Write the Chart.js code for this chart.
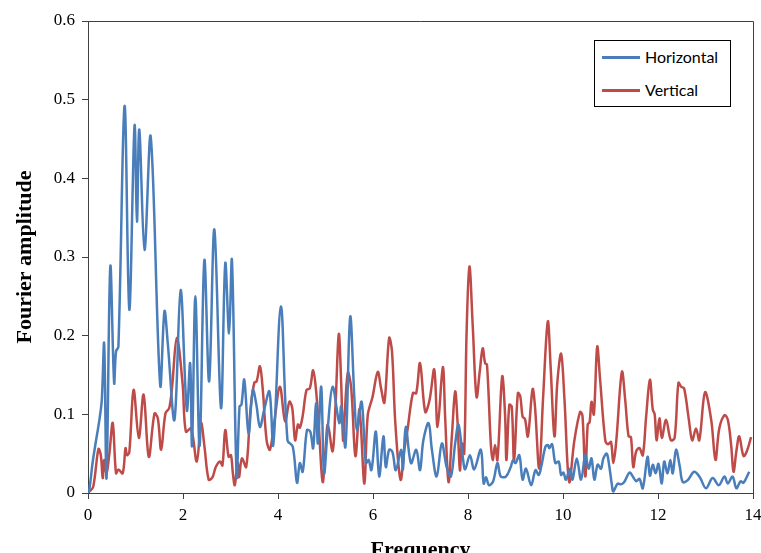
<!DOCTYPE html>
<html>
<head>
<meta charset="utf-8">
<script src="https://cdn.jsdelivr.net/npm/chart.js@4"></script>
<style>
  body { margin: 0; overflow: hidden; background: #fff; }
  #wrap { position: relative; width: 772px; height: 564px; }
  #legend { position: absolute; left: 594px; top: 40px; width: 135px; height: 65px;
            border: 1px solid #000; background: #fff; font: 16px Lato, sans-serif; color: #000; }
  #legend .ln { position: absolute; left: 7px; width: 38px; height: 2.5px; }
  #legend .tx { position: absolute; left: 50px; line-height: 20px; }
</style>
</head>
<body>
<div id="wrap">
  <canvas id="chart"></canvas>
  <div id="legend">
    <div class="ln" style="top:15px;background:#4a7ebb"></div>
    <div class="tx" style="top:6px">Horizontal</div>
    <div class="ln" style="top:48px;background:#be4b48"></div>
    <div class="tx" style="top:39px">Vertical</div>
  </div>
</div>
<script>
const freqH = [0, 0.03, 0.10, 0.17, 0.24, 0.29, 0.34, 0.39, 0.47, 0.55, 0.59, 0.64, 0.77, 0.87, 0.98, 1.03, 1.08, 1.19, 1.32,
  1.52, 1.61, 1.68, 1.82, 1.95, 2.08, 2.15, 2.19, 2.26, 2.35, 2.45, 2.55, 2.66, 2.80, 2.89, 2.97, 3.03, 3.13, 3.19, 3.23,
  3.29, 3.38, 3.47, 3.54, 3.62, 3.71, 3.82, 3.90, 4.06, 4.20, 4.31, 4.40, 4.46, 4.52, 4.61, 4.68, 4.74, 4.80, 4.84, 4.91,
  4.97, 5.05, 5.15, 5.29, 5.33, 5.42, 5.52, 5.61, 5.66, 5.76, 5.85, 5.91, 5.96, 5.99, 6.06, 6.13, 6.22, 6.27, 6.34, 6.41,
  6.48, 6.59, 6.63, 6.69, 6.80, 6.91, 6.99, 7.06, 7.17, 7.24, 7.34, 7.45, 7.55, 7.64, 7.73, 7.80, 7.89, 7.94, 8.04, 8.13,
  8.27, 8.33, 8.38, 8.44, 8.53, 8.62, 8.69, 8.80, 8.90, 8.95, 9.00, 9.08, 9.15, 9.22, 9.33, 9.42, 9.49, 9.54, 9.63, 9.68,
  9.71, 9.77, 9.84, 9.91, 9.96, 10.01, 10.06, 10.15, 10.20, 10.29, 10.38, 10.47, 10.54, 10.60, 10.66, 10.73, 10.80, 10.85,
  10.92, 10.97, 11.03, 11.06, 11.15, 11.22, 11.29, 11.40, 11.47, 11.54, 11.61, 11.68, 11.78, 11.83, 11.89, 11.95, 12.01,
  12.08, 12.13, 12.20, 12.26, 12.31, 12.38, 12.46, 12.52, 12.62, 12.76, 12.88, 13.01, 13.15, 13.28, 13.40, 13.47, 13.57,
  13.65, 13.74, 13.80, 13.92];
const ampH = [0, 0.005, 0.04, 0.067, 0.093, 0.118, 0.19, 0.019, 0.288, 0.14, 0.18, 0.186, 0.492, 0.233, 0.467, 0.345, 0.462, 0.309, 0.453,
  0.137, 0.231, 0.19, 0.093, 0.258, 0.105, 0.165, 0.06, 0.25, 0.06, 0.296, 0.142, 0.335, 0.108, 0.292, 0.203, 0.296, 0.021, 0.11, 0.112,
  0.144, 0.076, 0.131, 0.114, 0.084, 0.106, 0.129, 0.061, 0.237, 0.067, 0.059, 0.013, 0.038, 0.027, 0.08, 0.078, 0.057, 0.114, 0.063, 0.135,
  0.025, 0.084, 0.135, 0.089, 0.11, 0.059, 0.224, 0.118, 0.08, 0.116, 0.038, 0.042, 0.029, 0.038, 0.078, 0.021, 0.072, 0.033, 0.055, 0.052,
  0.029, 0.055, 0.03, 0.084, 0.038, 0.055, 0.029, 0.067, 0.089, 0.055, 0.021, 0.063, 0.033, 0.021, 0.063, 0.087, 0.046, 0.03, 0.048, 0.03,
  0.055, 0.012, 0.02, 0.01, 0.015, 0.038, 0.021, 0.021, 0.033, 0.042, 0.038, 0.048, 0.017, 0.031, 0.01, 0.029, 0.023, 0.033, 0.059, 0.061,
  0.057, 0.062, 0.038, 0.04, 0.023, 0.026, 0.017, 0.031, 0.017, 0.044, 0.017, 0.048, 0.031, 0.044, 0.017, 0.036, 0.031, 0.044,
  0.05, 0.036, 0.01, 0.002, 0.012, 0.011, 0.014, 0.026, 0.021, 0.015, 0.018, 0.006, 0.046, 0.022, 0.036, 0.025, 0.037,
  0.012, 0.04, 0.025, 0.042, 0.025, 0.055, 0.033, 0.014, 0.016, 0.027, 0.02, 0.006, 0.019, 0.01, 0.021, 0.012, 0.021,
  0.006, 0.015, 0.013, 0.027];

const freqV = [0, 0.03, 0.11, 0.22, 0.27, 0.31, 0.34, 0.39, 0.45, 0.52, 0.59, 0.64, 0.73, 0.79, 0.82, 0.87, 0.96, 1.07, 1.17, 1.28,
  1.40, 1.47, 1.54, 1.63, 1.71, 1.77, 1.87, 1.99, 2.06, 2.17, 2.29, 2.38, 2.45, 2.54, 2.62, 2.69, 2.78, 2.83, 2.89, 2.96,
  3.01, 3.05, 3.09, 3.15, 3.18, 3.24, 3.33, 3.42, 3.50, 3.55, 3.62, 3.68, 3.76, 3.83, 3.92, 4.04, 4.15, 4.24, 4.30, 4.36,
  4.42, 4.46, 4.52, 4.60, 4.67, 4.74, 4.80, 4.86, 4.94, 5.00, 5.05, 5.15, 5.21, 5.28, 5.33, 5.37, 5.40, 5.47, 5.54, 5.63,
  5.71, 5.74, 5.82, 5.89, 5.99, 6.10, 6.17, 6.24, 6.34, 6.40, 6.47, 6.58, 6.66, 6.73, 6.84, 6.91, 6.99, 7.10, 7.19, 7.29,
  7.36, 7.47, 7.52, 7.59, 7.66, 7.73, 7.78, 7.83, 7.87, 7.92, 7.97, 8.03, 8.10, 8.18, 8.25, 8.31, 8.36, 8.40, 8.48, 8.52,
  8.57, 8.62, 8.72, 8.78, 8.81, 8.87, 8.92, 8.97, 9.05, 9.10, 9.15, 9.20, 9.26, 9.36, 9.41, 9.50, 9.58, 9.68, 9.74, 9.82,
  9.88, 9.96, 10.03, 10.13, 10.24, 10.36, 10.41, 10.47, 10.52, 10.56, 10.60, 10.65, 10.72, 10.78, 10.89, 10.95, 11.01,
  11.06, 11.12, 11.24, 11.31, 11.38, 11.43, 11.48, 11.54, 11.61, 11.68, 11.75, 11.83, 11.89, 11.93, 11.97, 12.03, 12.08,
  12.17, 12.27, 12.35, 12.43, 12.49, 12.55, 12.65, 12.72, 12.80, 12.87, 12.99, 13.12, 13.21, 13.29, 13.40, 13.47, 13.54,
  13.59, 13.65, 13.71, 13.80, 13.87, 13.96];
const ampV = [0, 0.002, 0.008, 0.056, 0.048, 0.019, 0.042, 0.025, 0.05, 0.089, 0.025, 0.03, 0.025, 0.057, 0.048, 0.052, 0.131, 0.07, 0.125, 0.046,
  0.101, 0.095, 0.055, 0.101, 0.108, 0.135, 0.197, 0.14, 0.078, 0.082, 0.04, 0.089, 0.06, 0.017, 0.02, 0.033, 0.04, 0.035, 0.08, 0.046,
  0.048, 0.025, 0.01, 0.038, 0.02, 0.044, 0.033, 0.106, 0.14, 0.142, 0.161, 0.131, 0.067, 0.055, 0.089, 0.135, 0.091, 0.116, 0.108, 0.067,
  0.087, 0.083, 0.098, 0.131, 0.133, 0.156, 0.131, 0.084, 0.014, 0.055, 0.087, 0.053, 0.11, 0.202, 0.14, 0.067, 0.095, 0.153, 0.134, 0.047,
  0.106, 0.09, 0.012, 0.099, 0.122, 0.154, 0.133, 0.115, 0.197, 0.18, 0.089, 0.017, 0.055, 0.082, 0.127, 0.127, 0.165, 0.103, 0.118, 0.157,
  0.084, 0.16, 0.095, 0.014, 0.072, 0.129, 0.09, 0.029, 0.063, 0.05, 0.203, 0.288, 0.212, 0.122, 0.156, 0.184, 0.165, 0.163, 0.063, 0.042,
  0.061, 0.042, 0.148, 0.1, 0.042, 0.112, 0.11, 0.042, 0.127, 0.123, 0.097, 0.094, 0.072, 0.132, 0.11, 0.031, 0.12, 0.218, 0.16, 0.072,
  0.14, 0.177, 0.12, 0.014, 0.067, 0.103, 0.098, 0.021, 0.087, 0.09, 0.116, 0.1, 0.186, 0.145, 0.067, 0.062, 0.065,
  0.038, 0.065, 0.154, 0.118, 0.072, 0.071, 0.033, 0.053, 0.057, 0.048, 0.097, 0.144, 0.106, 0.1, 0.067, 0.095, 0.07,
  0.093, 0.067, 0.07, 0.14, 0.135, 0.133, 0.093, 0.067, 0.082, 0.067, 0.128, 0.093, 0.042, 0.082, 0.099, 0.093, 0.061,
  0.027, 0.053, 0.072, 0.047, 0.053, 0.071];

const xTicks = [0, 2, 4, 6, 8, 10, 12, 14];
const yTicks = [0, 0.1, 0.2, 0.3, 0.4, 0.5, 0.6];

const toPoints = (xs, ys) => xs.map((x, i) => ({x: x, y: ys[i]}));

const serif = "'Times New Roman', 'Liberation Serif', serif";
const axisColor = '#404040';

// top and right edge of the plot frame
const frame = {
  id: 'frame',
  afterDraw(chart) {
    const {ctx, chartArea: a} = chart;
    ctx.save();
    ctx.strokeStyle = axisColor;
    ctx.lineWidth = 1;
    ctx.beginPath();
    ctx.moveTo(a.left, a.top + 0.5);
    ctx.lineTo(a.right + 0.5, a.top + 0.5);
    ctx.lineTo(a.right + 0.5, a.bottom);
    ctx.stroke();
    ctx.restore();
  }
};

new Chart(document.getElementById('chart'), {
  type: 'line',
  data: {
    datasets: [
      {
        label: 'Horizontal',
        data: toPoints(freqH, ampH),
        borderColor: '#4a7ebb',
        borderWidth: 2.5,
        pointRadius: 0,
        tension: 0.35
      },
      {
        label: 'Vertical',
        data: toPoints(freqV, ampV),
        borderColor: '#be4b48',
        borderWidth: 2.5,
        pointRadius: 0,
        tension: 0.35
      }
    ]
  },
  options: {
    responsive: true,
    maintainAspectRatio: false,
    animation: false,
    layout: { padding: { top: 21, right: 19, left: 0, bottom: 0 } },
    plugins: {
      legend: { display: false },
      tooltip: { enabled: false }
    },
    scales: {
      x: {
        type: 'linear',
        min: 0,
        max: 14,
        afterFit: (s) => { s.height = 71; },
        afterBuildTicks: (s) => { s.ticks = xTicks.map(v => ({value: v})); },
        ticks: { color: '#000', padding: 6, font: { family: serif, size: 17 } },
        grid: { drawOnChartArea: false, tickLength: 6, color: axisColor },
        border: { color: axisColor },
        title: {
          display: true,
          text: 'Frequency',
          color: '#000',
          padding: 0,
          font: { family: serif, size: 22, weight: 'bold' }
        }
      },
      y: {
        min: 0,
        max: 0.6,
        afterFit: (s) => { s.width = 88; },
        afterBuildTicks: (s) => { s.ticks = yTicks.map(v => ({value: v})); },
        ticks: {
          color: '#000',
          padding: 7,
          font: { family: serif, size: 17 },
          callback: (v) => v === 0 ? '0' : v.toFixed(1)
        },
        grid: { drawOnChartArea: false, tickLength: 6, color: axisColor },
        border: { color: axisColor },
        title: {
          display: true,
          text: 'Fourier amplitude',
          color: '#000',
          padding: { top: 12, bottom: 0 },
          font: { family: serif, size: 22, weight: 'bold' }
        }
      }
    }
  },
  plugins: [frame]
});
</script>
</body>
</html>
